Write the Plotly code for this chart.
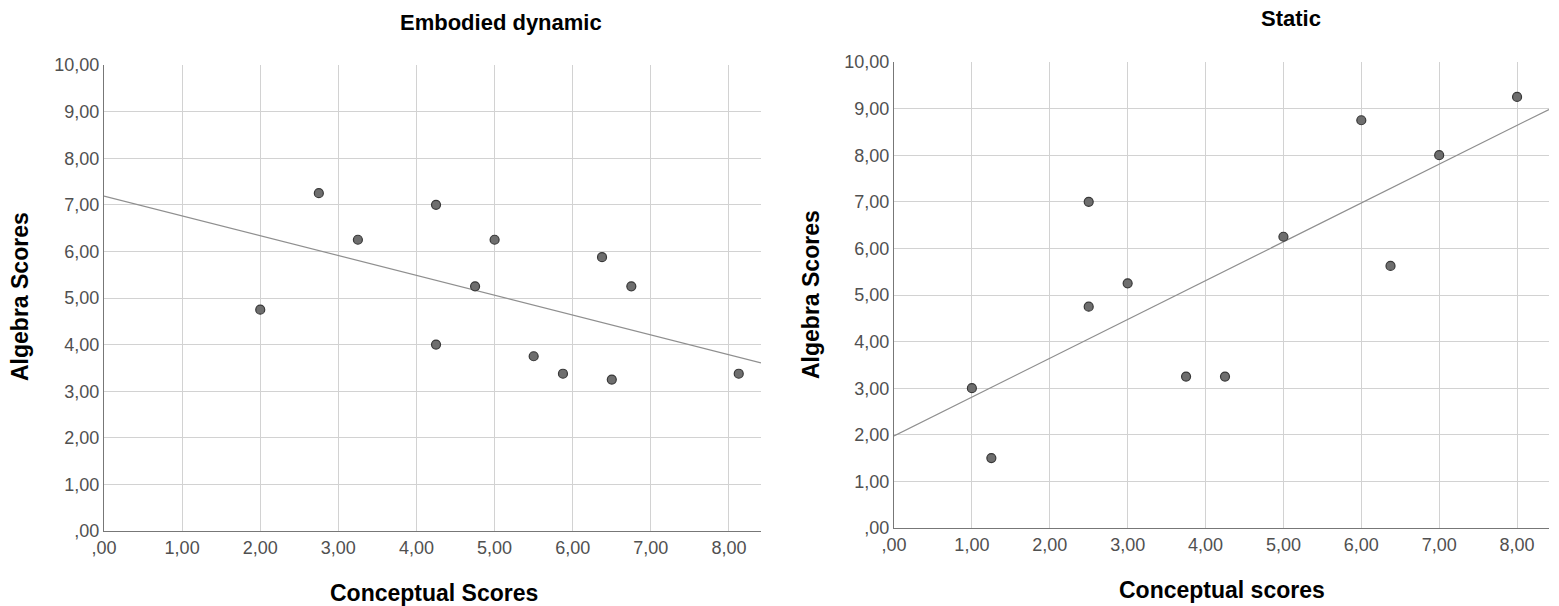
import numpy as np
import plotly.graph_objects as go

# Embodied dynamic group
dyn_conceptual = [2.00, 2.75, 3.25, 4.25, 4.75, 5.00, 6.375, 6.75, 4.25, 5.50, 5.875, 6.50, 8.125]
dyn_algebra = [4.75, 7.25, 6.25, 7.00, 5.25, 6.25, 5.875, 5.25, 4.00, 3.75, 3.375, 3.25, 3.375]

# Static group
sta_conceptual = [1.00, 1.25, 2.50, 2.50, 3.00, 3.75, 4.25, 5.00, 6.00, 6.375, 7.00, 8.00]
sta_algebra = [3.00, 1.50, 4.75, 7.00, 5.25, 3.25, 3.25, 6.25, 8.75, 5.625, 8.00, 9.25]

x_ticks = [0, 1, 2, 3, 4, 5, 6, 7, 8]
x_tick_labels = [",00", "1,00", "2,00", "3,00", "4,00", "5,00", "6,00", "7,00", "8,00"]
y_ticks = [0, 1, 2, 3, 4, 5, 6, 7, 8, 9, 10]
y_tick_labels = [",00", "1,00", "2,00", "3,00", "4,00", "5,00", "6,00", "7,00", "8,00", "9,00", "10,00"]

X_MAX = 8.41
W, H = 1559, 606
FONT = "Liberation Sans, Arial, sans-serif"

fig = go.Figure()

def add_panel(xs, ys, xa, ya):
    slope, intercept = np.polyfit(xs, ys, 1)
    lx = [0, X_MAX]
    fig.add_trace(go.Scatter(x=lx, y=[intercept + slope * v for v in lx], mode="lines",
                             line=dict(color="#8f8f8f", width=1.2), xaxis=xa, yaxis=ya,
                             hoverinfo="skip", showlegend=False))
    fig.add_trace(go.Scatter(x=xs, y=ys, mode="markers",
                             marker=dict(size=9, color="#6e6e6e", line=dict(color="#383838", width=1.2)),
                             xaxis=xa, yaxis=ya, showlegend=False))

add_panel(dyn_conceptual, dyn_algebra, "x", "y")
add_panel(sta_conceptual, sta_algebra, "x2", "y2")

def px_x(p):
    return p / W

def px_y(p):
    return 1 - p / H

xcommon = dict(range=[0, X_MAX], tickvals=x_ticks, ticktext=x_tick_labels, showgrid=True,
               gridcolor="#d2d2d2", gridwidth=1, showline=True, linecolor="#777777", linewidth=1.2,
               zeroline=False, ticks="", tickfont=dict(family=FONT, size=18, color="#505050"),
               fixedrange=True, automargin=False)
ycommon = dict(range=[0, 10], tickvals=y_ticks, ticktext=y_tick_labels, showgrid=True,
               gridcolor="#d2d2d2", gridwidth=1, showline=True, linecolor="#777777", linewidth=1.2,
               zeroline=False, ticks="", tickfont=dict(family=FONT, size=18, color="#505050"),
               fixedrange=True, automargin=False)

fig.update_layout(
    width=W, height=H, margin=dict(l=0, r=0, t=0, b=0, autoexpand=False),
    paper_bgcolor="white", plot_bgcolor="white",
    xaxis=dict(domain=[px_x(104), px_x(761)], anchor="y", **xcommon),
    yaxis=dict(domain=[px_y(531), px_y(65)], anchor="x", **ycommon),
    xaxis2=dict(domain=[px_x(894), px_x(1549)], anchor="y2", **xcommon),
    yaxis2=dict(domain=[px_y(528), px_y(62)], anchor="x2", **ycommon),
    showlegend=False,
)

def ann(text, x, y, size, angle=0):
    fig.add_annotation(text="<b>%s</b>" % text, x=px_x(x), y=px_y(y), xref="paper", yref="paper",
                       showarrow=False, textangle=angle, xanchor="center", yanchor="middle",
                       font=dict(family=FONT, size=size, color="#000000"))

ann("Embodied dynamic", 501, 23, 22)
ann("Static", 1291, 19, 22)
ann("Conceptual Scores", 434, 593, 23)
ann("Conceptual scores", 1222, 590, 23)
ann("Algebra Scores", 20, 297, 23, -90)
ann("Algebra Scores", 811, 295, 23, -90)

fig.write_html("out.html")
